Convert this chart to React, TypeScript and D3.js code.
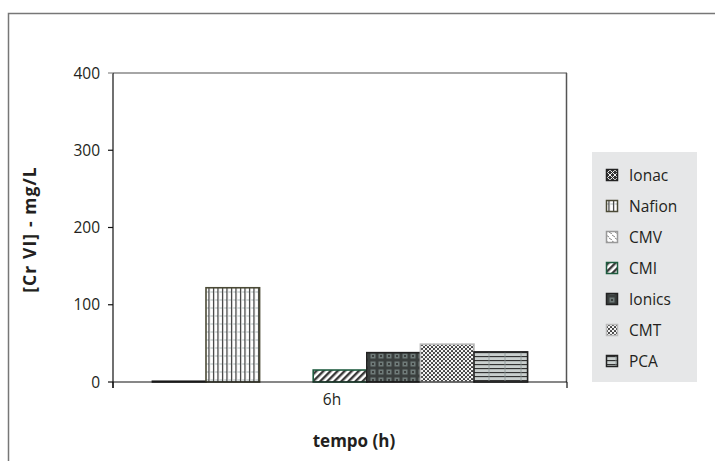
import React from 'react';
import * as d3 from 'd3';

// data
const categories = ['6h'];
const seriesNames = ['Ionac', 'Nafion', 'CMV', 'CMI', 'Ionics', 'CMT', 'PCA'];
const seriesValues = [1, 122, 0, 15.5, 38, 49, 39];
const yTicks = [0, 100, 200, 300, 400];

const W = 715;
const H = 461;
const plot = { left: 113, top: 73, right: 567, bottom: 382 };

const styles: Record<string, { fill: string; stroke: string }> = {
  Ionac: { fill: 'url(#pIonac)', stroke: '#222' },
  Nafion: { fill: 'url(#pNafion)', stroke: '#4b4a36' },
  CMV: { fill: 'url(#pCMV)', stroke: '#999' },
  CMI: { fill: 'url(#pCMI)', stroke: '#1e5c3f' },
  Ionics: { fill: 'url(#pIonics)', stroke: '#222' },
  CMT: { fill: 'url(#pCMT)', stroke: '#bbb' },
  PCA: { fill: 'url(#pPCA)', stroke: '#222' },
};

const font = '"Open Sans", "Noto Sans", sans-serif';

function App() {
  const x0 = d3.scaleBand().domain(categories).range([plot.left, plot.right]).padding(0);
  const x1 = d3
    .scaleBand()
    .domain(seriesNames)
    .range([0, x0.bandwidth()])
    .paddingInner(0)
    .paddingOuter(0.735);
  const y = d3.scaleLinear().domain([0, 400]).range([plot.bottom, plot.top]);

  const legend = { x: 592, y: 152, w: 105, h: 230 };
  const legendY = d3
    .scalePoint()
    .domain(seriesNames)
    .range([legend.y + 23, legend.y + 209]);

  return (
    <svg
      width={W}
      height={H}
      style={{ position: 'absolute', left: 0, top: 0, background: '#fff' }}
      fontFamily={font}
    >
      <defs>
        <pattern id="pIonac" width="5" height="5" patternUnits="userSpaceOnUse">
          <rect width="5" height="5" fill="#333" />
          <path d="M0,0L5,5M5,0L0,5" stroke="#eee" strokeWidth="1" />
        </pattern>
        <pattern id="pNafion" width="4.5" height="8" patternUnits="userSpaceOnUse">
          <rect width="4.5" height="8" fill="#fff" />
          <path d="M0,4H4.5" stroke="#9aa" strokeWidth="0.8" strokeDasharray="1.5 1.5" />
          <path d="M1.5,0V8" stroke="#333" strokeWidth="1.2" />
        </pattern>
        <pattern id="pCMV" width="6" height="6" patternUnits="userSpaceOnUse">
          <rect width="6" height="6" fill="#fff" />
          <path d="M0,1L3,3M3,4L6,6" stroke="#666" strokeWidth="0.8" />
        </pattern>
        <pattern
          id="pCMI"
          width="5"
          height="5"
          patternUnits="userSpaceOnUse"
          patternTransform="rotate(45)"
        >
          <rect width="5" height="5" fill="#fff" />
          <rect width="2.4" height="5" fill="#3a3a3a" />
        </pattern>
        <pattern id="pIonics" width="8" height="8" patternUnits="userSpaceOnUse">
          <rect width="8" height="8" fill="#3a3f3e" />
          <rect x="1.5" y="1.5" width="5" height="5" fill="#6f7b79" />
          <circle cx="4" cy="4" r="1" fill="#2a2a2a" />
        </pattern>
        <pattern id="pCMT" width="4" height="4" patternUnits="userSpaceOnUse">
          <rect width="4" height="4" fill="#f4f4f4" />
          <circle cx="1" cy="1" r="1.05" fill="#333" />
          <circle cx="3" cy="3" r="1.05" fill="#333" />
        </pattern>
        <pattern id="pPCA" width="16" height="4" patternUnits="userSpaceOnUse">
          <rect width="16" height="4" fill="#c9cfce" />
          <path d="M0,0.5H16" stroke="#333" strokeWidth="1.3" />
          <path d="M8,0V4" stroke="#8a9493" strokeWidth="0.8" />
        </pattern>
      </defs>

      {/* outer frame (only top and left are inside the picture) */}
      <path d="M8.5,461V13.5H715" fill="none" stroke="#777" strokeWidth={1.5} />

      {/* plot area border */}
      <path
        d={`M${plot.left},${plot.top}H${plot.right}`}
        stroke="#888"
        strokeWidth={1.5}
      />
      <path
        d={`M${plot.right - 0.5},${plot.top}V${plot.bottom}`}
        stroke="#555"
        strokeWidth={1.5}
      />

      {/* bars */}
      {categories.map((cat) => (
        <g key={cat} transform={`translate(${x0(cat)},0)`}>
          {seriesNames.map((name, i) => {
            const v = seriesValues[i];
            if (v <= 0) return null;
            const top = y(v);
            return (
              <rect
                key={name}
                x={x1(name)}
                y={top}
                width={x1.bandwidth()}
                height={y(0) - top}
                fill={styles[name].fill}
                stroke={styles[name].stroke}
                strokeWidth={1.6}
              />
            );
          })}
        </g>
      ))}

      {/* y axis */}
      <line x1={plot.left} x2={plot.left} y1={plot.top} y2={plot.bottom + 6} stroke="#111" strokeWidth={1.2} />
      {yTicks.map((t) => (
        <g key={t} transform={`translate(0,${y(t)})`}>
          <line x1={plot.left - 5} x2={plot.left} stroke={t === 400 ? '#888' : '#111'} strokeWidth={1.2} />
          <text x={plot.left - 13} dy="0.36em" textAnchor="end" fontSize={15.5} fill="#231f20">
            {t}
          </text>
        </g>
      ))}

      {/* x axis */}
      <line x1={plot.left} x2={plot.right} y1={plot.bottom} y2={plot.bottom} stroke="#111" strokeWidth={1.2} />
      {[plot.left, plot.right].map((px) => (
        <line key={px} x1={px} x2={px} y1={plot.bottom} y2={plot.bottom + 6} stroke="#111" strokeWidth={1.2} />
      ))}
      {categories.map((cat) => (
        <text
          key={cat}
          x={(x0(cat) as number) + x0.bandwidth() / 2 - 8}
          y={405}
          textAnchor="middle"
          fontSize={15.5}
          fill="#231f20"
        >
          {cat}
        </text>
      ))}

      {/* axis titles */}
      <text x={354} y={447} textAnchor="middle" fontSize={17} fontWeight="bold" fill="#231f20">
        tempo (h)
      </text>
      <text
        transform={`translate(36,${(plot.top + plot.bottom) / 2 + 2}) rotate(-90)`}
        textAnchor="middle"
        fontSize={17.5}
        fontWeight="bold"
        letterSpacing={1.1}
        fill="#231f20"
      >
        [Cr VI] - mg/L
      </text>

      {/* legend */}
      <rect x={legend.x} y={legend.y} width={legend.w} height={legend.h} fill="#e6e7e8" />
      {seriesNames.map((name) => {
        const cy = legendY(name) as number;
        return (
          <g key={name}>
            <rect
              x={606.5}
              y={cy - 5.5}
              width={11}
              height={11}
              fill={styles[name].fill}
              stroke={styles[name].stroke}
              strokeWidth={1.5}
            />
            <text x={629} y={cy} dy="0.36em" fontSize={15.5} fill="#231f20">
              {name}
            </text>
          </g>
        );
      })}
    </svg>
  );
}

export default App;
